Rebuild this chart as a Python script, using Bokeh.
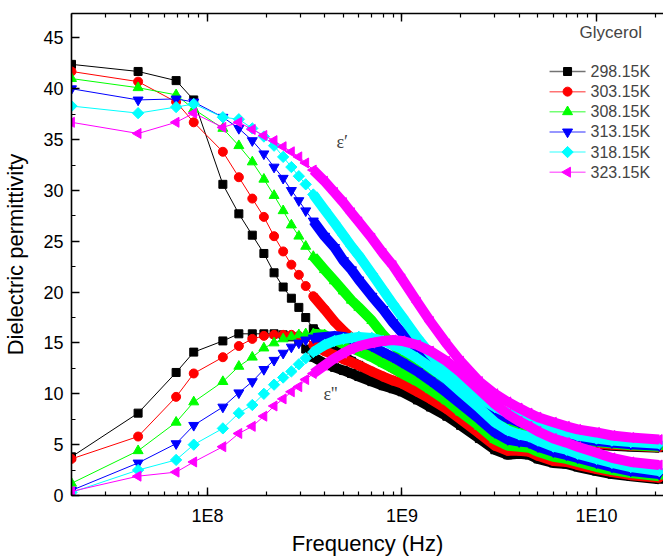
import math
from bokeh.plotting import figure
from bokeh.models import (Range1d, LogAxis, SingleIntervalTicker, LogTicker,
                          CustomJSTickFormatter, Label)
from bokeh.embed import file_html
from bokeh.resources import INLINE

# ---------------- data ----------------
freq = [2e7, 4.4e7, 6.9e7, 8.5e7, 1.2e8, 1.45e8, 1.7e8, 1.95e8, 2.2e8, 2.45e8,
        2.7e8, 2.95e8, 3.2e8, 3.5e8, 4e8, 4.5e8, 5e8, 5.5e8, 6e8, 7e8,
        8e8, 9e8, 1e9, 1.2e9, 1.4e9, 1.7e9, 2e9, 2.5e9, 3e9, 3.5e9,
        4e9, 4.5e9, 5e9, 6e9, 7e9, 8e9, 1e10, 1.2e10, 1.5e10, 2.1e10]

temps = ["298.15K", "303.15K", "308.15K", "313.15K", "318.15K", "323.15K"]

# real part (epsilon')
er_298 = [42.4, 41.7, 40.8, 38.9, 30.6, 27.7, 25.6, 23.8, 21.9, 20.5,
          19.4, 18.5, 17.5, 16.4, 15.0, 14.3, 13.7, 13.2, 12.8, 12.1,
          11.6, 11.2, 10.9, 10.3, 9.7, 8.9, 8.3, 7.4, 6.8, 6.4,
          6.2, 6.0, 5.8, 5.6, 5.4, 5.2, 5.0, 4.9, 4.8, 4.7]
er_303 = [41.7, 40.7, 38.7, 36.7, 33.8, 31.3, 29.2, 27.4, 25.5, 24.0,
          22.7, 21.7, 20.6, 19.6, 18.3, 17.1, 16.2, 15.5, 14.9, 13.9,
          13.1, 12.5, 12.0, 11.0, 10.3, 9.4, 8.7, 7.8, 7.1, 6.7,
          6.4, 6.2, 6.0, 5.8, 5.5, 5.3, 5.1, 5.0, 4.9, 4.75]
er_308 = [41.0, 40.1, 39.4, 38.0, 36.1, 34.4, 32.8, 31.1, 29.5, 28.0,
          26.6, 25.5, 24.5, 23.5, 22.2, 21.1, 20.1, 19.2, 18.5, 17.2,
          15.8, 14.8, 14.0, 12.6, 11.5, 10.3, 9.4, 8.4, 7.7, 7.2,
          6.9, 6.6, 6.4, 6.0, 5.7, 5.5, 5.25, 5.1, 4.95, 4.8]
er_313 = [40.0, 38.9, 39.0, 38.7, 37.2, 36.1, 34.9, 33.6, 32.3, 31.2,
          30.0, 29.0, 28.0, 27.0, 25.5, 24.4, 23.1, 22.2, 21.2, 19.6,
          18.3, 17.0, 16.0, 14.2, 12.8, 11.3, 10.2, 9.0, 8.1, 7.6,
          7.2, 6.9, 6.6, 6.2, 5.9, 5.6, 5.35, 5.2, 5.05, 4.9]
er_318 = [38.3, 37.6, 38.2, 38.5, 37.2, 37.0, 36.1, 35.3, 34.4, 33.3,
          32.3, 31.4, 30.6, 29.6, 28.1, 26.8, 25.6, 24.5, 23.6, 21.8,
          20.2, 18.8, 17.6, 15.5, 13.9, 12.2, 11.0, 9.6, 8.7, 8.1,
          7.7, 7.3, 7.0, 6.5, 6.2, 5.9, 5.6, 5.4, 5.25, 5.1]
er_323 = [36.7, 35.6, 36.7, 37.6, 36.2, 36.7, 36.0, 35.4, 34.9, 34.3,
          33.8, 33.3, 32.7, 32.0, 30.9, 29.8, 28.8, 27.8, 26.9, 25.3,
          23.8, 22.6, 21.3, 19.0, 17.1, 14.9, 13.2, 11.2, 10.0, 9.2,
          8.6, 8.1, 7.7, 7.2, 6.8, 6.5, 6.2, 5.9, 5.7, 5.5]

# imaginary part (epsilon'')
ei_298 = [3.8, 8.1, 12.1, 14.1, 15.2, 15.9, 15.9, 15.9, 15.9, 15.8,
          15.6, 15.2, 14.4, 13.6, 13.0, 12.6, 12.3, 12.0, 11.7, 11.2,
          10.8, 10.5, 10.2, 9.4, 8.7, 7.8, 6.9, 5.6, 4.5, 4.0,
          4.1, 4.0, 3.6, 3.2, 3.1, 2.8, 2.4, 2.1, 1.9, 1.6]
ei_303 = [3.6, 5.8, 9.7, 12.0, 13.6, 14.7, 15.4, 15.7, 15.8, 15.8,
          15.8, 15.7, 15.5, 14.8, 14.2, 13.8, 13.4, 13.1, 12.8, 12.2,
          11.7, 11.3, 11.0, 10.2, 9.5, 8.5, 7.5, 6.1, 4.9, 4.4,
          4.4, 4.3, 3.9, 3.4, 3.3, 3.0, 2.6, 2.3, 2.0, 1.75]
ei_308 = [1.2, 4.4, 7.2, 9.2, 11.2, 12.7, 13.6, 14.5, 15.0, 15.4,
          15.6, 15.8, 15.9, 15.9, 15.8, 15.3, 14.9, 14.5, 14.2, 13.6,
          13.0, 12.5, 12.0, 11.2, 10.4, 9.3, 8.2, 6.8, 5.5, 4.9,
          4.8, 4.7, 4.3, 3.8, 3.6, 3.3, 2.8, 2.5, 2.2, 1.9]
ei_313 = [0.5, 3.2, 5.1, 6.9, 8.7, 10.1, 11.2, 12.4, 13.3, 14.0,
          14.6, 15.0, 15.3, 15.5, 15.6, 15.7, 15.6, 15.4, 15.2, 14.7,
          14.1, 13.6, 13.1, 12.2, 11.3, 10.1, 9.0, 7.5, 6.2, 5.5,
          5.3, 5.2, 4.8, 4.3, 4.0, 3.7, 3.2, 2.8, 2.4, 2.1]
ei_318 = [0.3, 2.5, 3.5, 5.0, 6.6, 8.1, 8.9, 10.0, 10.9, 11.6,
          12.2, 12.9, 13.5, 14.1, 14.8, 15.2, 15.4, 15.5, 15.6, 15.5,
          15.2, 14.8, 14.4, 13.5, 12.6, 11.4, 10.2, 8.6, 7.2, 6.4,
          6.0, 5.8, 5.4, 4.8, 4.5, 4.1, 3.6, 3.2, 2.8, 2.4]
ei_323 = [0.4, 1.9, 2.3, 3.3, 4.8, 6.1, 6.8, 7.8, 8.8, 9.5,
          10.2, 10.7, 11.4, 12.0, 12.8, 13.5, 14.0, 14.4, 14.7, 15.0,
          15.2, 15.3, 15.2, 14.8, 14.2, 13.2, 12.1, 10.4, 9.0, 8.0,
          7.3, 6.8, 6.3, 5.6, 5.2, 4.8, 4.2, 3.7, 3.3, 3.0]

# ---------------- styling ----------------
colors = ["#000000", "#FF0000", "#00FF00", "#0000FF", "#00FFFF", "#FF00FF"]
markers = ["square", "circle", "triangle", "inverted_triangle", "square", "triangle"]
angles = [0, 0, 0, 0, math.pi / 4, math.pi / 2]
sizes = [8, 9, 10, 10, 8, 10]
ers = [er_298, er_303, er_308, er_313, er_318, er_323]
eis = [ei_298, ei_303, ei_308, ei_313, ei_318, ei_323]

FONT = "Liberation Sans"
X0, X1 = 2e7, 2.21e10
Y0, Y1 = 0, 47.4

p = figure(width=663, height=558, x_axis_type="log",
           x_range=Range1d(X0, X1), y_range=Range1d(Y0, Y1),
           output_backend="svg", toolbar_location=None,
           min_border_left=71, min_border_right=0,
           min_border_top=13, min_border_bottom=62)
p.outline_line_color = None
p.xgrid.visible = False
p.ygrid.visible = False
p.background_fill_color = "white"
p.border_fill_color = "white"

# axes
xa = p.xaxis[0]
xa.ticker = LogTicker(num_minor_ticks=10)
xa.formatter = CustomJSTickFormatter(code="return '1E' + Math.round(Math.log10(tick));")
ya = p.yaxis[0]
ya.ticker = SingleIntervalTicker(interval=5, num_minor_ticks=2)
for ax in (xa, ya):
    ax.major_tick_in = 8
    ax.major_tick_out = 0
    ax.minor_tick_in = 4
    ax.minor_tick_out = 0
    ax.axis_line_width = 1.6
    ax.major_tick_line_width = 1.4
    ax.minor_tick_line_width = 1.2
    ax.major_label_text_font = FONT
    ax.major_label_text_font_size = "18px"
    ax.major_label_text_color = "black"
    ax.axis_label_text_font = FONT
    ax.axis_label_text_font_style = "normal"
    ax.axis_label_text_font_size = "22px"
    ax.axis_label_text_color = "black"
xa.axis_label = "Frequency (Hz)"
ya.axis_label = "Dielectric permittivity"
xa.major_label_standoff = 10
xa.axis_label_standoff = 2
ya.major_label_standoff = 8
ya.axis_label_standoff = 12

top = LogAxis(ticker=LogTicker(num_minor_ticks=10),
              formatter=CustomJSTickFormatter(code="return '';"),
              major_label_standoff=0,
              major_tick_in=8, major_tick_out=0, minor_tick_in=4, minor_tick_out=0,
              axis_line_width=1.6, major_tick_line_width=1.4, minor_tick_line_width=1.2)
p.add_layout(top, "above")

# data renderers
DENSE = 13
for i in range(6):
    c = colors[i]
    p.line(freq, ers[i], line_color=c, line_width=1)
    p.line(freq, eis[i], line_color=c, line_width=1)
    p.line(freq[DENSE:], ers[i][DENSE:], line_color=c, line_width=10, line_join="round")
    p.line(freq[DENSE:], eis[i][DENSE:], line_color=c, line_width=10, line_join="round")
    p.scatter(freq, ers[i], marker=markers[i], size=sizes[i], angle=angles[i],
              fill_color=c, line_color=c)
    p.scatter(freq, eis[i], marker=markers[i], size=sizes[i], angle=angles[i],
              fill_color=c, line_color=c)

# pixel -> data helpers for annotation placement
def fx(px):
    return 10 ** (math.log10(X0) + (px - 71) / 194.5)

def fy(py):
    return (496.3 - py) / 10.2

# hand-drawn legend (so the rotated markers look right)
for i in range(6):
    c = colors[i]
    ry = 71 + 20.2 * i
    p.line([fx(549), fx(585)], [fy(ry), fy(ry)], line_color=c, line_width=1.5, line_alpha=0.55)
    p.scatter([fx(567)], [fy(ry)], marker=markers[i], size=sizes[i], angle=angles[i],
              fill_color=c, line_color=c)
    p.add_layout(Label(x=fx(590), y=fy(ry), text=temps[i], text_font=FONT,
                       text_font_size="16px", text_baseline="middle", text_align="left"))

p.add_layout(Label(x=fx(579), y=fy(32), text="Glycerol", text_font=FONT,
                   text_font_size="17px", text_baseline="middle", text_align="left"))
p.add_layout(Label(x=fx(336), y=fy(142), text="ε′", text_font="Liberation Serif",
                   text_font_size="18px", text_baseline="middle", text_align="left"))
p.add_layout(Label(x=fx(323), y=fy(394), text="ε''", text_font="Liberation Serif",
                   text_font_size="18px", text_baseline="middle", text_align="left"))

open("out.html", "w").write(file_html(p, INLINE))
